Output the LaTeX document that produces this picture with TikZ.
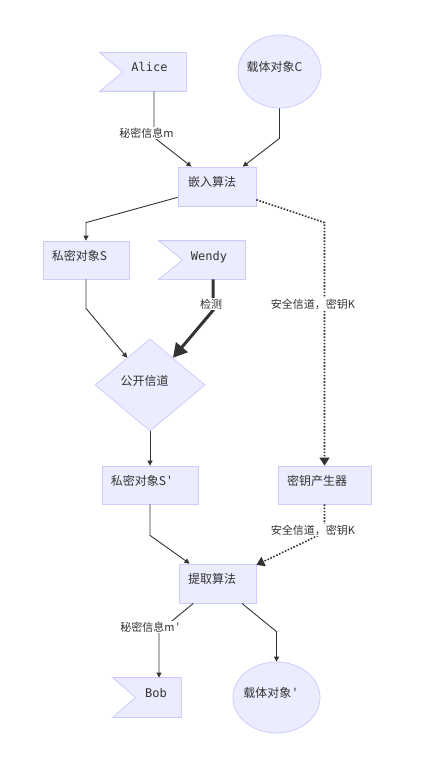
\documentclass[tikz,border=0pt]{standalone}
\usepackage{fontspec}
\setmainfont{Noto Sans CJK SC}
\newfontfamily\monofont{DejaVu Sans Mono}
\usepackage{xcolor}
\usetikzlibrary{shapes.geometric,arrows.meta,calc,backgrounds}
\definecolor{nodefill}{RGB}{236,236,255}
\definecolor{nodeline}{RGB}{204,204,255}
\definecolor{linegray}{RGB}{51,51,51}
\tikzset{
  base/.style={draw=nodeline, fill=nodefill, text=linegray, line width=0.8pt,
    font=\fontsize{12}{14}\selectfont, text height=10pt, text depth=10pt, inner sep=0pt},
  tshift/.style={execute at begin node={\hspace*{#1}}},
  rectbox/.style={base, rectangle},
  roundbox/.style={base, ellipse},
  choicebox/.style={base, diamond},
  flagbox/.style={base, rectangle, draw=none, fill=none, font=\monofont\fontsize{12}{14}\selectfont},
  lbl/.style={fill=white, text=linegray, inner sep=1pt, font=\fontsize{11}{13}\selectfont},
  edge/.style={draw=linegray, line width=0.9pt, -{Triangle[length=5pt,width=5pt]}},
  secure/.style={draw=linegray, line width=1.6pt, dash pattern=on 1.6pt off 1.6pt, -{Triangle[length=8pt,width=10pt]}},
  watch/.style={draw=linegray, line width=3pt, -{Triangle[length=14pt,width=15pt]}}
}

\begin{document}
\begin{tikzpicture}[x=1pt, y=-1pt]
\useasboundingbox (0,0) rectangle (422,770);

% shapes
\node[flagbox, minimum width=86pt, minimum height=38pt, tshift=13pt] (alice) at (143,72) {Alice};
\node[roundbox, minimum width=83pt, minimum height=73pt, tshift=-10pt] (carrier) at (279.5,71.5) {载体对象C};
\node[rectbox, minimum width=78pt, minimum height=39pt, tshift=-10pt] (embed) at (217,186.5) {嵌入算法};
\node[rectbox, minimum width=86pt, minimum height=38pt, tshift=-13pt] (objS) at (86,260) {私密对象S};
\node[flagbox, minimum width=86pt, minimum height=38pt, tshift=14pt] (wendy) at (202,260) {Wendy};
\node[choicebox, minimum width=110pt, minimum height=92pt, tshift=-11pt] (channel) at (150,385) {公开信道};
\node[rectbox, minimum width=96pt, minimum height=38pt, tshift=-18pt] (objS2) at (150,485) {私密对象S\,\textquotesingle};
\node[rectbox, minimum width=93pt, minimum height=38pt, tshift=-15pt] (keygen) at (324.5,485) {密钥产生器};
\node[rectbox, minimum width=77pt, minimum height=39pt, tshift=-11pt] (extract) at (217.5,583.5) {提取算法};
\node[flagbox, minimum width=68pt, minimum height=39pt, tshift=18pt] (bob) at (147,697.5) {Bob};
\node[roundbox, minimum width=87pt, minimum height=71pt, tshift=-13pt] (carrier2) at (276.5,697.5) {载体对象\,\textquotesingle};

\begin{scope}[on background layer]
  \fill[white] (0,0) rectangle (422,770);
  \foreach \f/\n in {alice/23, wendy/24, bob/23}
    \draw[draw=nodeline, fill=nodefill, line width=0.8pt] (\f.north west) -- (\f.north east)
      -- (\f.south east) -- (\f.south west) -- ($(\f.west)+(\n,0)$) -- cycle;
\end{scope}

% connectors
\draw[edge] ($(alice.south)+(11,0)$) -- ++(0,46) -- (embed);
\draw[edge] (carrier.south) -- ++(0,30) -- (embed);
\draw[edge] (embed) -- ($(objS.north)+(0,-18)$) -- (objS.north);
\draw[secure] (embed) -- ($(keygen.north)+(0,-243)$) -- (keygen.north);
\draw[edge] (objS.south) -- ++(0,29) -- (channel);
\draw[watch] ($(wendy.south)+(11,0)$) -- ++(0,31) -- (channel);
\draw[edge] (channel.south) -- (objS2.north);
\draw[edge] (objS2.south) -- ++(0,31) -- (extract);
\draw[secure] (keygen.south) -- ++(0,28) -- (extract);
\draw[edge] (extract) -- ($(bob.north)+(12,-46)$) -- ($(bob.north)+(12,0)$);
\draw[edge] (extract) -- ($(carrier2.north)+(0,-30)$) -- (carrier2.north);

% labels
\node[lbl] (msg) at (146.5,133) {秘密信息m};
\node[lbl] (detect) at (211,304) {检测};
\node[lbl] (key1) at (313,304) {安全信道，密钥K};
\node[lbl] (key2) at (313,530) {安全信道，密钥K};
\node[lbl] (msg2) at (150,627) {秘密信息m\,\textquotesingle};
\end{tikzpicture}
\end{document}
